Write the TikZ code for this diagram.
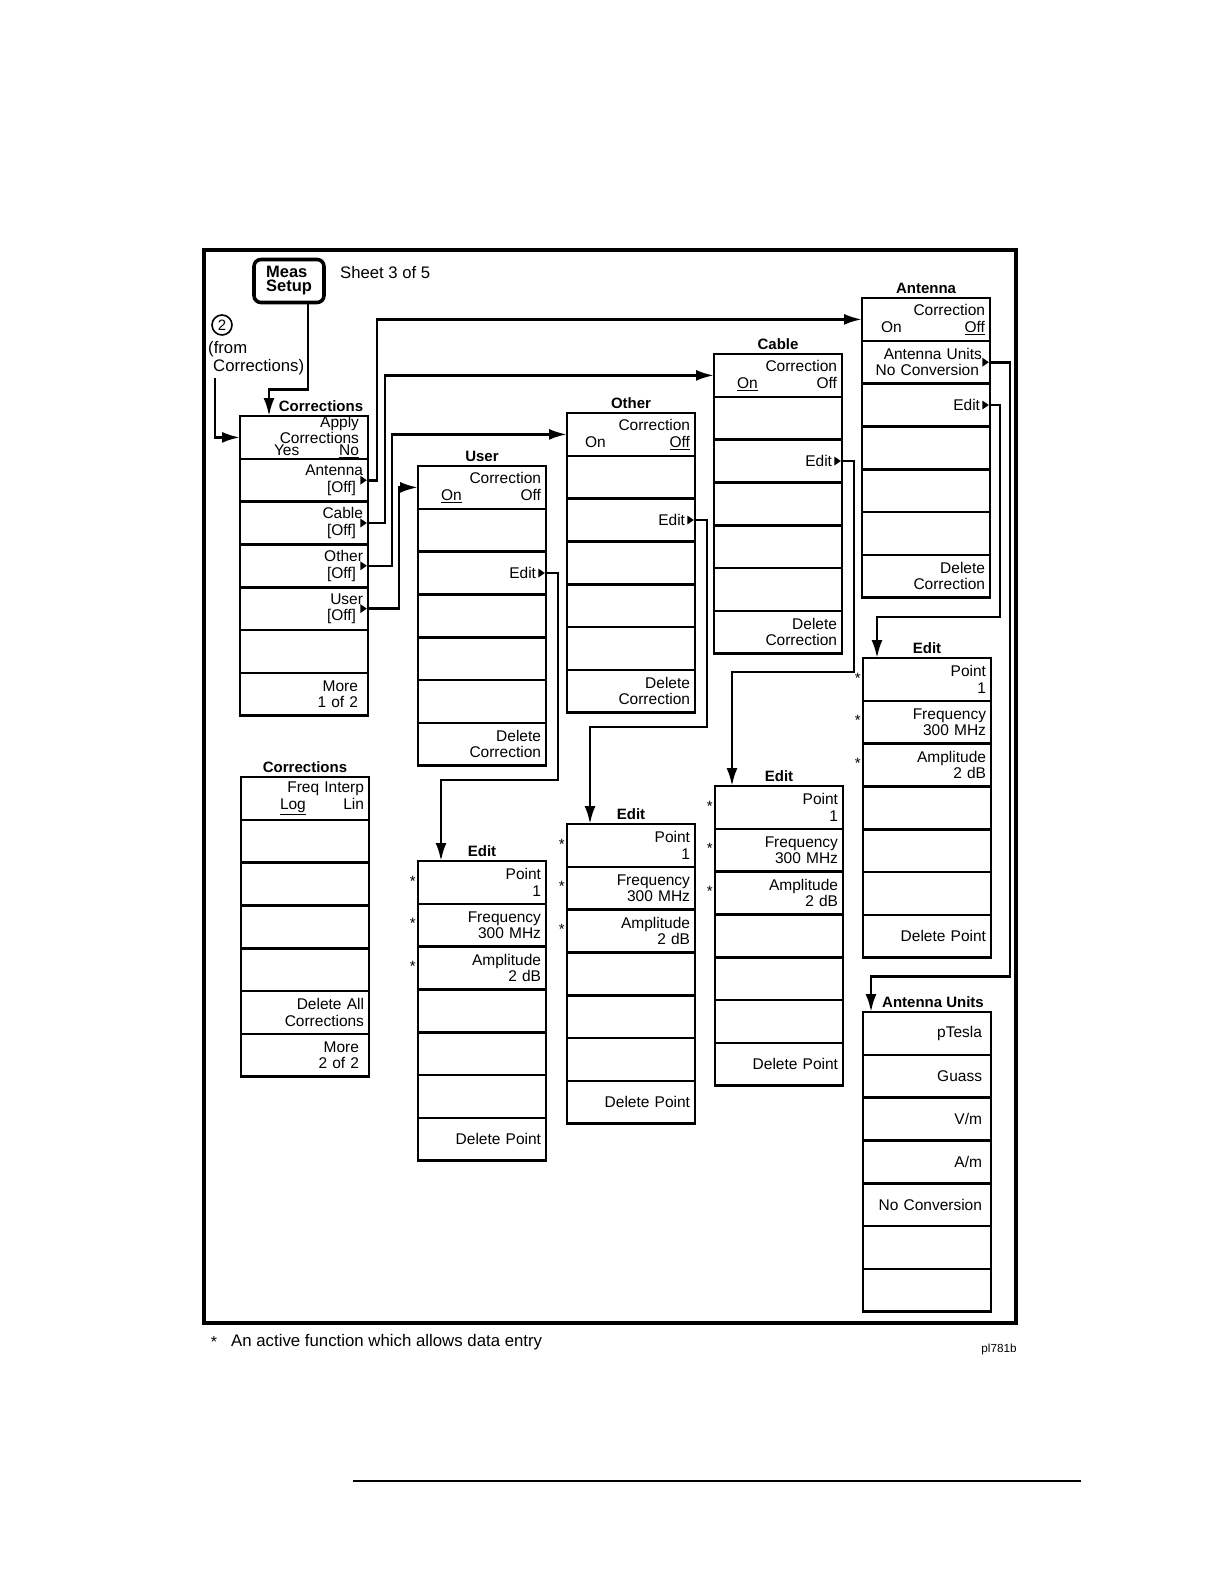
\documentclass[tikz,border=0pt]{standalone}
\usepackage{fontspec}
\setmainfont{Liberation Sans}
\usetikzlibrary{arrows.meta, positioning}

\newcommand{\submark}[1]{\fill ([xshift=-1.2pt]#1.east) -- ++(-6.5,-4.5) -- ++(0,9) -- cycle;}

\begin{document}
\begin{tikzpicture}[
  x=1pt, y=-1pt,
  key/.style = {
    draw, line width=2.6pt, outer sep=0pt, inner sep=0pt,
    minimum width=128pt, minimum height=42.8pt, text width=118pt,
    align=right, font=\fontsize{15.5}{16.5}\selectfont
  },
  ttl/.style = {font=\bfseries\fontsize{15}{17}\selectfont, inner sep=4pt},
  ast/.style = {font=\fontsize{15}{15}\selectfont, inner sep=1pt},
  txt/.style = {inner sep=0pt, font=\fontsize{16.7}{18}\selectfont},
  link/.style = {line width=2.6pt, -{Latex[length=18pt, width=11pt]}}
]
\useasboundingbox (0,0) rectangle (1224,1582);
\draw[line width=4pt] (204,250) rectangle (1016,1323);

% hardkey and entry points
\node[draw, line width=3.6pt, rounded corners=7pt, minimum width=70pt, minimum height=43pt,
  inner sep=0pt, align=left, font=\bfseries\fontsize{16.5}{14}\selectfont] (meas) at (289,281) {Meas\\Setup};
\node[txt, anchor=west] (sheet) at (340,273) {Sheet 3 of 5};
\node[draw, circle, line width=1.6pt, minimum size=20pt, inner sep=0pt,
  font=\fontsize{15}{15}\selectfont] (src) at (222,325) {2};
\node[txt, anchor=north west, align=left] (from) at (208,341) {(from\\\hspace*{5pt}Corrections)};

% Corrections 1 of 2
\node[key, font=\fontsize{15.5}{12.5}\selectfont] (cor1) at (304,437.4)
  {Apply\makebox[4pt]{}\\Corrections\makebox[4pt]{}\\\makebox[85pt]{Yes\hfill\underline{No}}\makebox[4pt]{}};
\foreach \txt [count=\i from 2] in {{Antenna\\{[Off]}\makebox[7pt]{}}, {Cable\\{[Off]}\makebox[7pt]{}},
    {Other\\{[Off]}\makebox[7pt]{}}, {User\\{[Off]}\makebox[7pt]{}}, {}, {More\makebox[5pt]{}\\1 of 2\makebox[5pt]{}}} {
  \pgfmathtruncatemacro{\prv}{\i-1}
  \node[key, below=0pt of cor\prv] (cor\i) {\txt};
}
\node[ttl, above=0pt of cor1, xshift=17pt] (cort) {Corrections};

% User
\node[key] (usr1) at (482,487.4) {Correction\\\makebox[100pt]{\underline{On}\hfill Off}};
\foreach \txt [count=\i from 2] in {{}, {Edit\makebox[5pt]{}}, {}, {}, {}, {Delete\\Correction}} {
  \pgfmathtruncatemacro{\prv}{\i-1}
  \node[key, below=0pt of usr\prv] (usr\i) {\txt};
}
\node[ttl, above=0pt of usr1] (usrt) {User};

% Other
\node[key] (oth1) at (631,434.4) {Correction\\\makebox[105pt]{On\hfill\underline{Off}}};
\foreach \txt [count=\i from 2] in {{}, {Edit\makebox[5pt]{}}, {}, {}, {}, {Delete\\Correction}} {
  \pgfmathtruncatemacro{\prv}{\i-1}
  \node[key, below=0pt of oth\prv] (oth\i) {\txt};
}
\node[ttl, above=0pt of oth1] (otht) {Other};

% Cable
\node[key] (cab1) at (778,375.4) {Correction\\\makebox[100pt]{\underline{On}\hfill Off}};
\foreach \txt [count=\i from 2] in {{}, {Edit\makebox[5pt]{}}, {}, {}, {}, {Delete\\Correction}} {
  \pgfmathtruncatemacro{\prv}{\i-1}
  \node[key, below=0pt of cab\prv] (cab\i) {\txt};
}
\node[ttl, above=0pt of cab1] (cabt) {Cable};

% Antenna
\node[key] (ant1) at (926,319.4) {Correction\\\makebox[104pt]{On\hfill\underline{Off}}};
\foreach \txt [count=\i from 2] in {{Antenna Units\makebox[3pt]{}\\No Conversion\makebox[6pt]{}}, {Edit\makebox[5pt]{}},
    {}, {}, {}, {Delete\\Correction}} {
  \pgfmathtruncatemacro{\prv}{\i-1}
  \node[key, below=0pt of ant\prv] (ant\i) {\txt};
}
\node[ttl, above=0pt of ant1] (antt) {Antenna};

% Corrections 2 of 2
\node[key] (crb1) at (305,798.4) {Freq Interp\\\makebox[84pt]{\underline{Log}\hfill Lin}};
\foreach \txt [count=\i from 2] in {{}, {}, {}, {}, {Delete All\\Corrections}, {More\makebox[5pt]{}\\2 of 2\makebox[5pt]{}}} {
  \pgfmathtruncatemacro{\prv}{\i-1}
  \node[key, below=0pt of crb\prv] (crb\i) {\txt};
}
\node[ttl, above=0pt of crb1] (crbt) {Corrections};

% the four Edit menus
\foreach \m/\x/\y in {edu/482/882.4, edo/631/845.4, edc/779/807.4, eda/927/679.4} {
  \node[key] (\m1) at (\x,\y) {Point\\1};
  \node[key, below=0pt of \m1] (\m2) {Frequency\\300 MHz};
  \node[key, below=0pt of \m2] (\m3) {Amplitude\\2 dB};
  \node[key, below=0pt of \m3] (\m4) {};
  \node[key, below=0pt of \m4] (\m5) {};
  \node[key, below=0pt of \m5] (\m6) {};
  \node[key, below=0pt of \m6] (\m7) {Delete Point};
  \node[ttl, above=0pt of \m1] (\m t) {Edit};
  \foreach \i in {1,2,3}
    \node[ast, left=1pt of \m\i.west, yshift=1.5pt] (\m a\i) {*};
}

% Antenna Units
\node[key] (unt1) at (927,1033.4) {pTesla\makebox[4pt]{}};
\foreach \txt [count=\i from 2] in {{Guass\makebox[4pt]{}}, {V/m\makebox[4pt]{}}, {A/m\makebox[4pt]{}},
    {No Conversion\makebox[4pt]{}}, {}, {}} {
  \pgfmathtruncatemacro{\prv}{\i-1}
  \node[key, below=0pt of unt\prv] (unt\i) {\txt};
}
\node[ttl, above=0pt of unt1, xshift=6pt] (untt) {Antenna Units};

% submenu markers
\submark{cor2} \submark{cor3} \submark{cor4} \submark{cor5}
\submark{usr3} \submark{oth3} \submark{cab3} \submark{ant2} \submark{ant3}

% connectors
\draw[link] ([xshift=19pt]meas.south) -- ++(0,85) -| ([xshift=-35pt]cor1.north);
\draw[link] ([xshift=7pt, yshift=-3pt]from.south west) |- (cor1.west);
\draw[link] (cor2.east) -- ++(9,0) |- (ant1.west);
\draw[link] (cor3.east) -- ++(17,0) |- (cab1.west);
\draw[link] (cor4.east) -- ++(24,0) |- (oth1.west);
\draw[link] (cor5.east) -- ++(31,0) |- (usr1.west);
\draw[link] (usr3.east) -- ++(12,0) -- ++(0,207) -| ([xshift=-41pt]edu1.north);
\draw[link] (oth3.east) -- ++(12,0) -- ++(0,207) -| ([xshift=-41pt]edo1.north);
\draw[link] (cab3.east) -- ++(12,0) -- ++(0,211) -| ([xshift=-47pt]edc1.north);
\draw[link] (ant3.east) -- ++(10,0) -- ++(0,212) -| ([xshift=-50pt]eda1.north);
\draw[link] (ant2.east) -- ++(20,0) -- ++(0,614) -| ([xshift=-56pt]unt1.north);

% footnote
\node[ast, font=\fontsize{16}{16}\selectfont] (footstar) at (214,1342) {*};
\node[txt, anchor=west, font=\fontsize{16.8}{18}\selectfont] (foot) at (231,1342) {An active function which allows data entry};
\node[inner sep=0pt, font=\fontsize{11.7}{12}\selectfont] (figid) at (999,1349) {pl781b};
\draw[line width=1.6pt] (353,1481) -- (1081,1481);
\end{tikzpicture}
\end{document}
